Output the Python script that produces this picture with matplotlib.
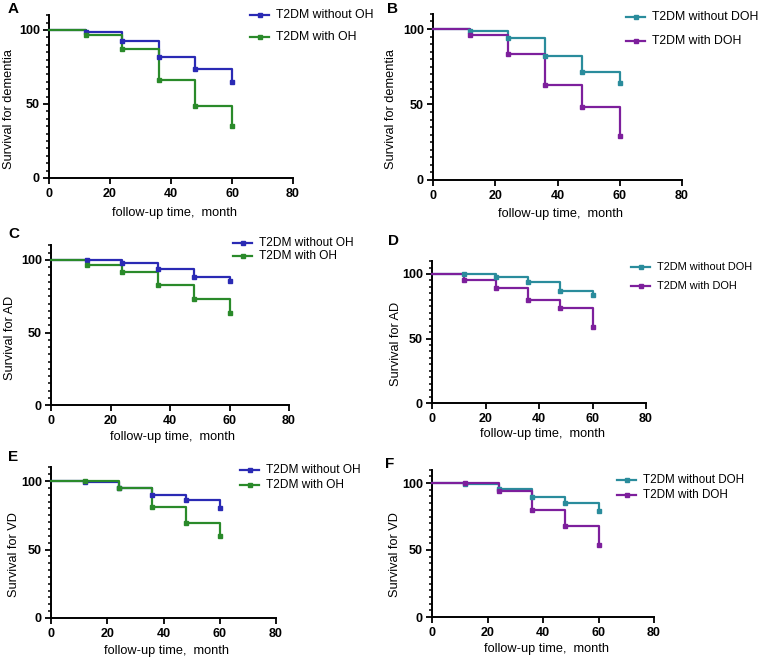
import matplotlib
matplotlib.use("Agg")
import matplotlib.pyplot as plt
from matplotlib.ticker import MultipleLocator

plt.rcParams['font.family'] = ['Liberation Sans', 'DejaVu Sans']

W, H = 763, 659

# follow-up time points (months)
months = [0, 12, 24, 36, 48, 60]

# survival (%)
dem_no_oh = [100, 98.4, 92.5, 82, 73.4, 65]
dem_oh = [100, 96.4, 87, 66, 48.5, 35]
dem_no_doh = [100, 99, 94, 82, 71.7, 64]
dem_doh = [100, 96, 83.6, 62.6, 48.2, 29]

ad_no_oh = [100, 100, 97.7, 93.6, 88.5, 85.5]
ad_oh = [100, 96.6, 91.7, 83, 73.3, 63.2]
ad_no_doh = [100, 100, 97.7, 93.8, 87, 84]
ad_doh = [100, 95.6, 89.4, 80, 74, 59]

vd_no_oh = [100, 99.3, 95, 89.8, 86.4, 80]
vd_oh = [100, 100, 95, 81.3, 69.6, 59.6]
vd_no_doh = [100, 99.3, 95.5, 89.3, 85.3, 79.4]
vd_doh = [100, 100, 93.8, 80, 67.7, 54]

BLUE = '#2a2ab4'
GREEN = '#2a8a2a'
TEAL = '#2a8c9c'
PURPLE = '#7d1f9c'

fig = plt.figure(figsize=(W / 100, H / 100), dpi=100)


def px_axes(left, right, y0, y100):
    top = y0 - 110 * (y0 - y100) / 100.0
    return fig.add_axes([left / W, 1 - y0 / H, (right - left) / W, (y0 - top) / H])


panels = [
    # letter, axes px (left, right, y0, y100), letter pos, ylabel, ylabel x, xlabel y,
    # series, labels, colours, legend (handle x, rows, font size)
    ("A", (49, 293, 178, 30), (8, 9), "Survival for dementia", 9, 213,
     (dem_no_oh, dem_oh), ("T2DM without OH", "T2DM with OH"), (BLUE, GREEN), (250, 15, 37, 8.8)),
    ("B", (433, 682, 180, 29), (387, 9), "Survival for dementia", 391, 214,
     (dem_no_doh, dem_doh), ("T2DM without DOH", "T2DM with DOH"), (TEAL, PURPLE), (626, 17, 41, 8.8)),
    ("C", (51, 289, 405, 260), (8, 234), "Survival for AD", 10, 437,
     (ad_no_oh, ad_oh), ("T2DM without OH", "T2DM with OH"), (BLUE, GREEN), (233, 243, 256, 8.6)),
    ("D", (432, 646, 403, 274), (388, 241), "Survival for AD", 396, 434,
     (ad_no_doh, ad_doh), ("T2DM without DOH", "T2DM with DOH"), (TEAL, PURPLE), (631, 267, 286, 7.9)),
    ("E", (51, 276, 618, 481), (8, 457), "Survival for VD", 14, 651,
     (vd_no_oh, vd_oh), ("T2DM without OH", "T2DM with OH"), (BLUE, GREEN), (240, 470, 485, 8.6)),
    ("F", (432, 654, 617, 483), (385, 464), "Survival for VD", 395, 649,
     (vd_no_doh, vd_doh), ("T2DM without DOH", "T2DM with DOH"), (TEAL, PURPLE), (617, 480, 495, 8.4)),
]

for letter, box, lpos, ylab, ylx, xly, series, labels, cols, leg in panels:
    left, right, y0, y100 = box
    ax = px_axes(left, right, y0, y100)
    for vals, lab, c in zip(series, labels, cols):
        ax.step(months, vals, where='post', color=c, lw=1.6, clip_on=False, zorder=3)
        ax.plot(months[1:], vals[1:], ls='none', marker='s', ms=2.3, color=c,
                clip_on=False, zorder=4)
    ax.set_xlim(0, 80)
    ax.set_ylim(0, 110)
    ax.set_xticks([0, 20, 40, 60, 80])
    ax.set_yticks([0, 50, 100])
    ax.yaxis.set_minor_locator(MultipleLocator(5))
    for s in ('top', 'right'):
        ax.spines[s].set_visible(False)
    for s in ('left', 'bottom'):
        ax.spines[s].set_linewidth(1.4)
    ax.tick_params(which='major', length=4.5, width=1.3, labelsize=9, pad=2)
    ax.tick_params(axis='x', which='major', pad=3)
    ax.tick_params(which='minor', length=2.5, width=1.1)
    for t in ax.get_xticklabels() + ax.get_yticklabels():
        t.set_fontweight('bold')
    ax.patch.set_alpha(0)

    fig.text(lpos[0] / W, 1 - lpos[1] / H, letter, fontsize=11, fontweight='bold',
             ha='left', va='center')
    fig.text(ylx / W, 1 - ((y0 + y100) / 2 + 5) / H, ylab, rotation=90, fontsize=9.2,
             ha='center', va='center')
    fig.text(((left + right) / 2 + 3) / W, 1 - xly / H, "follow-up time,  month",
             fontsize=9.2, ha='center', va='center')

    hx, r1, r2, lfs = leg
    for ry, lab, c in zip((r1, r2), labels, cols):
        fig.add_artist(plt.Line2D([hx / W, (hx + 19) / W], [1 - ry / H, 1 - ry / H],
                                  color=c, lw=1.6))
        fig.add_artist(plt.Line2D([(hx + 9.5) / W], [1 - ry / H], color=c,
                                  marker='s', ms=2.2, ls='none'))
        fig.text((hx + 26) / W, 1 - ry / H, lab, fontsize=lfs, ha='left', va='center')

fig.savefig("out.png", dpi=100)
